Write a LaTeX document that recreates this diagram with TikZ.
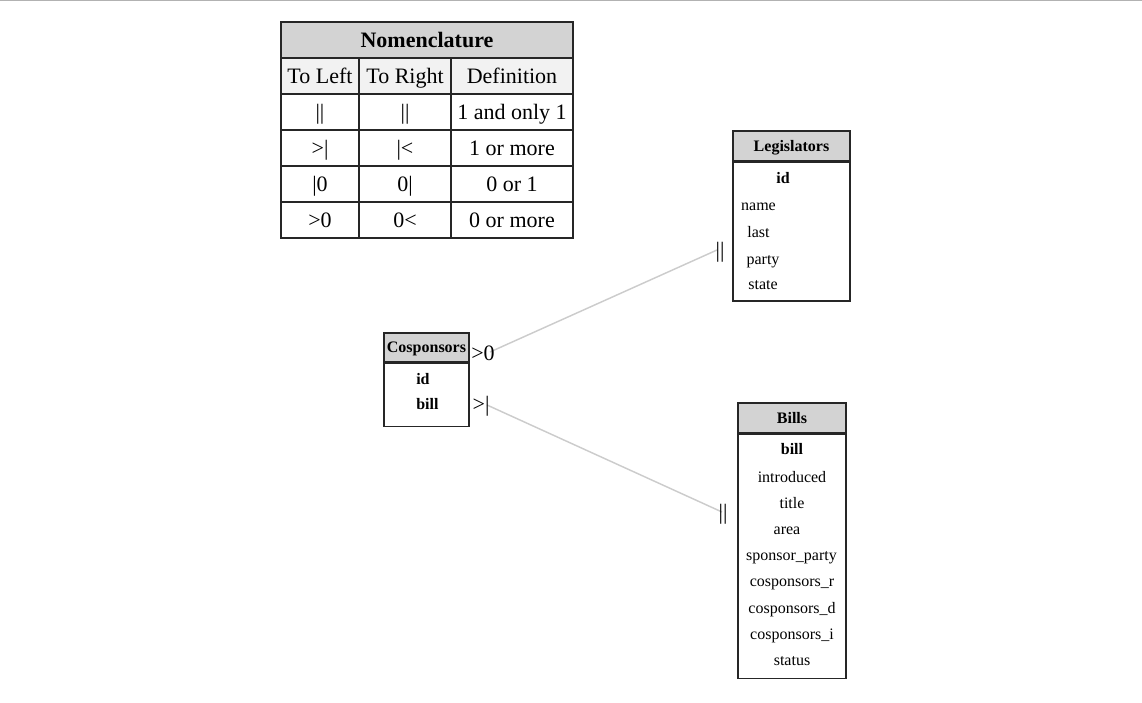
\documentclass[tikz,border=0pt]{standalone}
\usepackage{fontspec}
\setmainfont{Liberation Serif}
\usetikzlibrary{positioning}

\definecolor{hdrgray}{RGB}{211,211,211}
\definecolor{rowgray}{RGB}{242,242,242}
\definecolor{linkgray}{RGB}{204,204,204}

\tikzset{
  cell/.style={draw=black!85, line width=1.1pt, minimum height=27pt, inner sep=0pt,
    text height=12.5pt, text depth=1.5pt, font=\fontsize{16.5pt}{19pt}\selectfont},
  nomhead/.style={cell, fill=hdrgray, font=\bfseries\fontsize{16.5pt}{19pt}\selectfont},
  entity/.style={draw=black!85, line width=1.1pt, fill=hdrgray, inner sep=0pt,
    text height=9pt, text depth=1.5pt, font=\bfseries\fontsize{12pt}{14pt}\selectfont},
  body/.style={draw=black!85, line width=1.1pt, fill=white, inner sep=0pt},
  field/.style={inner sep=0pt, text height=9.5pt, text depth=1pt, font=\fontsize{12pt}{14pt}\selectfont},
  key/.style={field, font=\bfseries\fontsize{12pt}{14pt}\selectfont},
  card/.style={inner sep=0pt, text height=12.5pt, text depth=1.5pt, font=\fontsize{16.5pt}{19pt}\selectfont},
  link/.style={draw=linkgray, line width=1.1pt}
}

\begin{document}
\begin{tikzpicture}[x=0.75pt,y=-0.75pt]
  \useasboundingbox (0,0) rectangle (1142,703);
  \draw[gray!60, line width=1.2pt] (0,0.6) -- (1142,0.6);

  % nomenclature
  \node[nomhead, minimum width=219pt] (nomen) at (427,40) {Nomenclature};
  \foreach \r/\y/\f/\a/\b/\c in {1/76/rowgray/To Left/To Right/Definition,
      2/112/white/{||}/{||}/1 and only 1,
      3/148/white/{>|}/{|<}/1 or more,
      4/184/white/{|0}/{0|}/0 or 1,
      5/220/white/{>0}/{0<}/0 or more}
  {
    \node[cell, fill=\f, minimum width=58.5pt] (left\r) at (320,\y) {\a};
    \node[cell, fill=\f, minimum width=69pt] (right\r) at (405,\y) {\b};
    \node[cell, fill=\f, minimum width=91.5pt] (def\r) at (512,\y) {\c};
  }

  % tables
  \path
  node[entity, minimum width=63.75pt, minimum height=21.75pt] (cos) at (426.5,347.5) {Cosponsors}
  node[body, minimum width=63.75pt, minimum height=47.25pt, below=0pt of cos] (cosBody) {}
  node[entity, minimum width=87.75pt, minimum height=22.5pt] (leg) at (791.5,146) {Legislators}
  node[body, minimum width=87.75pt, minimum height=104pt, below=0pt of leg] (legBody) {}
  node[entity, minimum width=81pt, minimum height=22.5pt] (bil) at (792,418) {Bills}
  node[body, minimum width=81pt, minimum height=183pt, below=0pt of bil] (bilBody) {}
  ;

  \path
  node[key, anchor=west] (cosId) at (416,379) {id}
  node[key, anchor=west] (cosBill) at (416,404) {bill}
  node[key] (legId) at (783,178) {id}
  node[field] (legName) at (758.5,205) {name}
  node[field] (legLast) at (758.5,232) {last}
  node[field] (legParty) at (763,259) {party}
  node[field] (legState) at (763,284) {state}
  node[key] (bilBill) at (792,449) {bill}
  node[field] (bilIntro) at (792,477) {introduced}
  node[field] (bilTitle) at (792,503) {title}
  node[field] (bilArea) at (787,529) {area}
  node[field] (bilSponsor) at (791.5,555) {sponsor\_party}
  node[field] (bilCosR) at (792,581) {cosponsors\_r}
  node[field] (bilCosD) at (792,608) {cosponsors\_d}
  node[field] (bilCosI) at (792,634) {cosponsors\_i}
  node[field] (bilStatus) at (792,660) {status}
  ;

  % relations
  \coordinate (cosLeg) at (490,352);
  \coordinate (legCos) at (717,250);
  \coordinate (cosBil) at (487,405);
  \coordinate (bilCos) at (722,512);
  \draw[link] (cosLeg) -- (legCos);
  \draw[link] (cosBil) -- (bilCos);

  \path
  node[card] (cardCosLeg) at (483,353) {>0}
  node[card] (cardLegCos) at (720,250) {||}
  node[card] (cardCosBil) at (481,404) {>|}
  node[card] (cardBilCos) at (723,512) {||}
  ;
\end{tikzpicture}
\end{document}
